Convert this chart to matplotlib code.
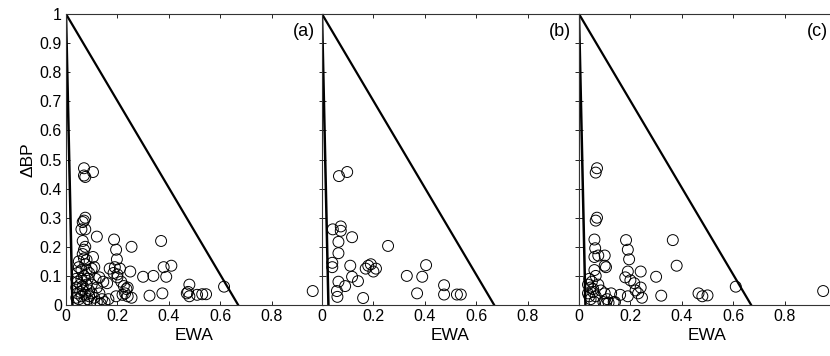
import numpy as np
import matplotlib
matplotlib.use("Agg")
import matplotlib.pyplot as plt

plt.rcParams['font.family'] = ['Liberation Sans', 'DejaVu Sans']

# panel (a) points: EWA, dBP
ewa_a = [0.96, 0.615, 0.37, 0.255, 0.38, 0.41, 0.39, 0.34, 0.30, 0.325, 0.375, 0.48, 0.47, 0.48, 0.475,
         0.51, 0.53, 0.545,
         0.187, 0.195, 0.198, 0.17, 0.19, 0.21, 0.185, 0.20, 0.215, 0.225, 0.235, 0.25, 0.24, 0.24, 0.255,
         0.23, 0.195, 0.22, 0.16, 0.20,
         0.12, 0.105, 0.07, 0.07, 0.075, 0.07, 0.065, 0.075, 0.06, 0.075, 0.065, 0.075, 0.07, 0.105, 0.11,
         0.10, 0.145, 0.13, 0.12, 0.13, 0.11, 0.12, 0.135, 0.15, 0.165, 0.14, 0.10, 0.09, 0.08, 0.085, 0.09,
         0.075, 0.07, 0.065, 0.08, 0.06, 0.05, 0.045, 0.04, 0.04, 0.045, 0.04, 0.05, 0.06, 0.065, 0.055,
         0.06, 0.07, 0.08, 0.05, 0.085, 0.095, 0.075, 0.045, 0.065, 0.10, 0.115, 0.09, 0.07, 0.055]
dbp_a = [0.048, 0.063, 0.22, 0.20, 0.13, 0.135, 0.097, 0.10, 0.097, 0.032, 0.04, 0.07, 0.04, 0.03, 0.045,
         0.035, 0.037, 0.037,
         0.225, 0.19, 0.157, 0.125, 0.13, 0.125, 0.11, 0.095, 0.08, 0.065, 0.055, 0.115, 0.06, 0.03, 0.025,
         0.04, 0.03, 0.035, 0.075, 0.105,
         0.235, 0.457, 0.47, 0.445, 0.44, 0.29, 0.285, 0.30, 0.26, 0.26, 0.22, 0.20, 0.19, 0.165, 0.13,
         0.125, 0.08, 0.095, 0.06, 0.04, 0.025, 0.01, 0.005, 0.01, 0.02, 0.02, 0.04, 0.05, 0.07, 0.09, 0.11,
         0.14, 0.16, 0.175, 0.155, 0.12, 0.13, 0.11, 0.09, 0.06, 0.04, 0.025, 0.02, 0.03, 0.05, 0.07,
         0.09, 0.10, 0.12, 0.15, 0.02, 0.01, 0.035, 0.08, 0.065, 0.07, 0.09, 0.03, 0.01, 0.045]

# panel (b)
ewa_b = [0.066, 0.098, 0.042, 0.073, 0.073, 0.117, 0.064, 0.257, 0.064, 0.04, 0.04, 0.11, 0.117, 0.14,
         0.064, 0.09, 0.058, 0.06, 0.16, 0.17, 0.18, 0.19, 0.20, 0.21, 0.33, 0.39, 0.405, 0.37, 0.475,
         0.475, 0.525, 0.54]
dbp_b = [0.443, 0.457, 0.26, 0.27, 0.255, 0.233, 0.217, 0.203, 0.178, 0.145, 0.13, 0.135, 0.097, 0.082,
         0.08, 0.065, 0.048, 0.028, 0.024, 0.125, 0.135, 0.14, 0.115, 0.125, 0.10, 0.097, 0.137, 0.04, 0.068,
         0.036, 0.036, 0.036]

# panel (c)
ewa_c = [0.95, 0.61, 0.365, 0.38, 0.30, 0.32, 0.465, 0.48, 0.50,
         0.183, 0.19, 0.195, 0.19, 0.18, 0.20, 0.215, 0.24, 0.24, 0.23, 0.245, 0.19, 0.22,
         0.07, 0.065, 0.065, 0.07, 0.06, 0.063, 0.06, 0.075, 0.10, 0.10, 0.105, 0.06, 0.065,
         0.04, 0.035, 0.045, 0.035, 0.045, 0.055, 0.065, 0.06, 0.10, 0.095, 0.105, 0.115, 0.135,
         0.16, 0.14, 0.05, 0.075, 0.085, 0.04, 0.055, 0.11, 0.125]
dbp_c = [0.048, 0.063, 0.223, 0.135, 0.097, 0.032, 0.04, 0.03, 0.033,
         0.223, 0.19, 0.157, 0.115, 0.095, 0.085, 0.075, 0.115, 0.06, 0.04, 0.025, 0.03, 0.05,
         0.47, 0.455, 0.29, 0.30, 0.225, 0.195, 0.165, 0.17, 0.17, 0.135, 0.13, 0.12, 0.10,
         0.09, 0.07, 0.06, 0.04, 0.02, 0.045, 0.03, 0.01, 0.04, 0.01, 0.005, 0.008, 0.01,
         0.035, 0.01, 0.08, 0.07, 0.05, 0.03, 0.055, 0.02, 0.04]

panels = [(ewa_a, dbp_a, '(a)'), (ewa_b, dbp_b, '(b)'), (ewa_c, dbp_c, '(c)')]
lefts = [66, 322, 579]

W, H = 830, 356
fig = plt.figure(figsize=(W / 100, H / 100), dpi=100)

for k, (xs, ys, tag) in enumerate(panels):
    ax = fig.add_axes([lefts[k] / W, (H - 305) / H, 257 / W, 291 / H])
    ax.plot([0, 0.025], [1, 0], color='black', lw=1.8)
    ax.plot([0, 0.67], [1, 0], color='black', lw=1.6)
    ax.scatter(xs, ys, s=62, facecolors='none', edgecolors='black', linewidths=0.7, zorder=3)
    ax.set_xlim(0, 1)
    ax.set_ylim(0, 1)
    ax.set_xticks(np.arange(0, 1.01, 0.2))
    ax.set_xticklabels(['0', '0.2', '0.4', '0.6', '0.8', ''])
    ax.set_yticks(np.arange(0, 1.01, 0.1))
    if k == 0:
        ax.set_yticklabels(['0', '0.1', '0.2', '0.3', '0.4', '0.5', '0.6', '0.7', '0.8', '0.9', '1'])
        ax.set_ylabel('ΔBP', fontsize=12.5, labelpad=3)
    else:
        ax.set_yticklabels([])
    ax.tick_params(direction='in', top=True, right=True, length=3, width=0.6,
                   labelsize=11.5, pad=3, colors='black')
    for s in ax.spines.values():
        s.set_linewidth(0.8)
        s.set_color('#333333')
    ax.set_xlabel('EWA', fontsize=12.5, labelpad=3)
    ax.text(0.97, 0.94, tag, fontsize=13, ha='right', va='center')

fig.savefig('out.png', dpi=100)
